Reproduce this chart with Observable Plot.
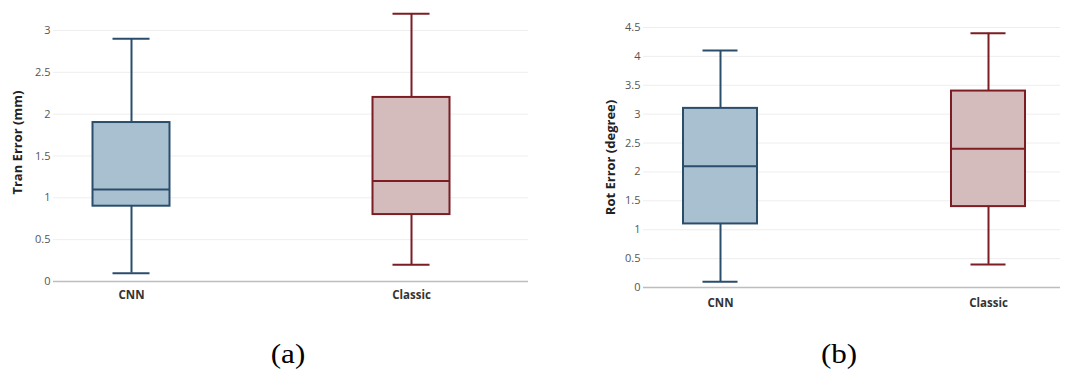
<!DOCTYPE html>
<html>
<head>
<meta charset="utf-8">
<script src="https://cdn.jsdelivr.net/npm/d3@7"></script>
<script src="https://cdn.jsdelivr.net/npm/@observablehq/plot@0.6"></script>
<style>
  html, body { margin: 0; padding: 0; background: #fff; }
  #wrap { position: relative; width: 1073px; height: 374px; overflow: hidden; font-family: "Open Sans", sans-serif; }
  #a, #b { position: absolute; top: 0; }
  #a { left: 0; }
  #b { left: 560px; }
  .cap { position: absolute; font-family: "Liberation Serif", "Times New Roman", serif; font-size: 27px; color: #000; transform: translateX(-50%) scaleX(1.15); line-height: 1; }
  svg g[aria-label="x-axis tick label"] text { font-weight: bold; }
  svg g[aria-label="ytitle"] text { letter-spacing: 2px; }
</style>
</head>
<body>
<div id="wrap">
  <div id="a"></div>
  <div id="b"></div>
  <div class="cap" style="left:288px; top:341px;">(a)</div>
  <div class="cap" style="left:839px; top:341px;">(b)</div>
</div>
<script>
// ---- data ----
const categories = ["CNN", "Classic"];
const tranMin    = [0.1, 0.2];
const tranQ1     = [0.9, 0.8];
const tranMedian = [1.1, 1.2];
const tranQ3     = [1.9, 2.2];
const tranMax    = [2.9, 3.2];
const rotMin     = [0.1, 0.4];
const rotQ1      = [1.1, 1.4];
const rotMedian  = [2.1, 2.4];
const rotQ3      = [3.1, 3.4];
const rotMax     = [4.1, 4.4];
const tranTicks  = [0, 0.5, 1, 1.5, 2, 2.5, 3];
const rotTicks   = [0, 0.5, 1, 1.5, 2, 2.5, 3, 3.5, 4, 4.5];
const strokeColors = ["#2b4d6c", "#7b1d22"];
const fillColors   = ["#a9c0d0", "#d4bcbd"];

function rows(mn, q1, md, q3, mx) {
  return categories.map((c, i) => ({cat: c, min: mn[i], q1: q1[i], median: md[i], q3: q3[i], max: mx[i]}));
}

function boxChart(o) {
  const data = rows(...o.values);
  const bw = o.xRange[1] - o.xRange[0];
  const step = bw / 2;
  const boxInset = (step - o.boxW) / 2;
  const capInset = (step - o.capW) / 2;
  return Plot.plot({
    width: o.width,
    height: o.height,
    marginLeft: o.frameL,
    marginRight: o.width - o.frameR,
    marginTop: 8,
    marginBottom: o.height - o.y0,
    style: {fontFamily: "Open Sans, sans-serif", fontSize: "11px", background: "#fff"},
    x: {type: "band", domain: categories, range: o.xRange, padding: 0},
    y: {domain: [0, o.ticks[o.ticks.length - 1]], range: [o.y0, o.yTop]},
    color: {domain: categories, range: strokeColors},
    marks: [
      Plot.gridY(o.ticks, {stroke: "#eeeeee", strokeOpacity: 1, strokeWidth: 1}),
      Plot.ruleY([0], {stroke: "#bdbdbd", strokeWidth: 1.5}),
      Plot.axisY(o.ticks, {tickSize: 0, tickPadding: 3, fill: "#555", fontSize: 11, tickFormat: d => String(d), label: null}),
      Plot.axisX({tickSize: 0, tickPadding: o.catPad, fill: "#333", fontSize: 11.5, fontWeight: "bold", label: null}),
      Plot.text([o.title], {frameAnchor: "left", y: [o.titleY], text: d => d, rotate: -90, dx: o.titleDx,
        fontWeight: "bold", fontSize: 13, fill: "#222", textAnchor: "middle", ariaLabel: "ytitle"}),
      Plot.ruleX(data, {x: "cat", y1: "min", y2: "max", stroke: "cat", strokeWidth: 2}),
      Plot.barY(data, {x: "cat", y1: "q1", y2: "q3", fill: (d, i) => fillColors[i], stroke: "cat", strokeWidth: 2,
        insetLeft: boxInset, insetRight: boxInset}),
      Plot.tickY(data, {x: "cat", y: "median", stroke: "cat", strokeWidth: 2, insetLeft: boxInset, insetRight: boxInset}),
      Plot.tickY(data, {x: "cat", y: "min", stroke: "cat", strokeWidth: 2, insetLeft: capInset, insetRight: capInset}),
      Plot.tickY(data, {x: "cat", y: "max", stroke: "cat", strokeWidth: 2, insetLeft: capInset, insetRight: capInset})
    ]
  });
}

document.getElementById("a").append(boxChart({
  values: [tranMin, tranQ1, tranMedian, tranQ3, tranMax],
  ticks: tranTicks, width: 545, height: 320, frameL: 53, frameR: 528,
  y0: 281, yTop: 30, xRange: [-9, 551], boxW: 77, capW: 37, catPad: 9,
  title: "Tran Error (mm)", titleY: 1.66, titleDx: -36
}));

document.getElementById("b").append(boxChart({
  values: [rotMin, rotQ1, rotMedian, rotQ3, rotMax],
  ticks: rotTicks, width: 513, height: 320, frameL: 83, frameR: 500,
  y0: 287, yTop: 27, xRange: [26, 562], boxW: 74, capW: 35, catPad: 11,
  title: "Rot Error (degree)", titleY: 2.25, titleDx: -33
}));
</script>
</body>
</html>
